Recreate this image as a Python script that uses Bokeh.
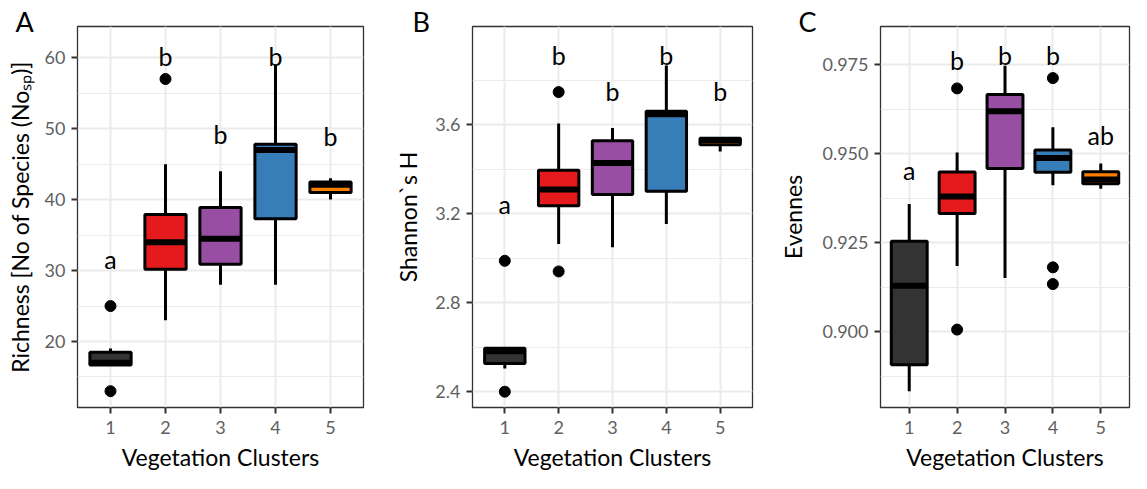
from bokeh.plotting import figure
from bokeh.layouts import row
from bokeh.models import Range1d, FixedTicker, ColumnDataSource, Title
from bokeh.core.properties import value
from bokeh.embed import file_html
from bokeh.resources import INLINE

FONT = "Lato"

# ---------------- data ----------------
clusters = [1, 2, 3, 4, 5]
cluster_labels = ["1", "2", "3", "4", "5"]
box_colors = ["#333333", "#E41A1C", "#984EA3", "#377EB8", "#FF7F00"]

# Panel A: Richness
rich_q1 = [16.7, 30.2, 30.9, 37.3, 41.0]
rich_med = [17.0, 34.0, 34.5, 47.0, 42.1]
rich_q3 = [18.5, 37.9, 38.9, 47.8, 42.5]
rich_lo = [16.7, 23.0, 28.0, 28.0, 40.0]
rich_hi = [19.0, 45.0, 44.0, 59.0, 43.0]
rich_out_x = [1, 1, 2]
rich_out_y = [25.0, 13.0, 57.0]
rich_letters = ["a", "b", "b", "b", "b"]
rich_letter_y = [31.7, 60.3, 49.3, 60.3, 49.0]
rich_ticks = [20, 30, 40, 50, 60]
rich_tick_labels = ["20", "30", "40", "50", "60"]
rich_minor = [15, 25, 35, 45, 55]

# Panel B: Shannon H
shan_q1 = [2.527, 3.237, 3.287, 3.302, 3.511]
shan_med = [2.582, 3.310, 3.429, 3.648, 3.532]
shan_q3 = [2.595, 3.396, 3.529, 3.662, 3.540]
shan_lo = [2.505, 3.064, 3.050, 3.154, 3.481]
shan_hi = [2.595, 3.607, 3.586, 3.868, 3.540]
shan_out_x = [1, 1, 2, 2]
shan_out_y = [2.989, 2.400, 3.748, 2.941]
shan_letters = ["a", "b", "b", "b", "b"]
shan_letter_y = [3.244, 3.916, 3.755, 3.916, 3.755]
shan_ticks = [2.4, 2.8, 3.2, 3.6]
shan_tick_labels = ["2.4", "2.8", "3.2", "3.6"]
shan_minor = [2.6, 3.0, 3.4, 3.8]

# Panel C: Evenness
even_q1 = [0.8907, 0.9332, 0.9459, 0.9448, 0.9416]
even_med = [0.9129, 0.9380, 0.9620, 0.9488, 0.9428]
even_q3 = [0.9254, 0.9449, 0.9667, 0.9511, 0.9450]
even_lo = [0.8833, 0.9185, 0.9151, 0.9412, 0.9402]
even_hi = [0.9359, 0.9504, 0.9748, 0.9575, 0.9473]
even_out_x = [2, 2, 4, 4, 4]
even_out_y = [0.9684, 0.9006, 0.9713, 0.9181, 0.9134]
even_letters = ["a", "b", "b", "b", "ab"]
even_letter_y = [0.9455, 0.9764, 0.9777, 0.9777, 0.9554]
even_ticks = [0.900, 0.925, 0.950, 0.975]
even_tick_labels = ["0.900", "0.925", "0.950", "0.975"]
even_minor = [0.8875, 0.9125, 0.9375, 0.9625]

x_title = "Vegetation Clusters"
y_titles = ["Richness [No of Species (No\u209b\u209a)]", "Shannon`s H", "Evennes"]
panel_letters = ["A", "B", "C"]

BOX_W = 0.75
H = 473
TOP = 26
BOTTOM = 65


def panel(width, left, right, yr, q1, med, q3, lo, hi, ox, oy, letters, ly,
          ticks, tick_labels, minor, letter, letter_offset, ytitle, ytitle_standoff):
    p = figure(width=width, height=H, x_range=Range1d(0.4, 5.6), y_range=Range1d(*yr),
               output_backend="svg", toolbar_location=None,
               min_border_left=left, min_border_right=right,
               min_border_top=TOP, min_border_bottom=BOTTOM)
    p.background_fill_color = "white"
    p.border_fill_color = "white"
    p.outline_line_color = "#333333"
    p.outline_line_width = 1.3

    p.title = Title(text=letter, align="left", offset=letter_offset, standoff=-23,
                    text_font=FONT, text_font_size="27px", text_font_style="normal",
                    text_color="black")

    p.xaxis.ticker = FixedTicker(ticks=clusters)
    p.xaxis.major_label_overrides = {c: l for c, l in zip(clusters, cluster_labels)}
    p.yaxis.ticker = FixedTicker(ticks=ticks, minor_ticks=minor)
    p.yaxis.major_label_overrides = {t: l for t, l in zip(ticks, tick_labels)}
    for ax in (p.xaxis, p.yaxis):
        ax.axis_line_color = None
        ax.major_tick_line_color = "#333333"
        ax.major_tick_line_width = 2
        ax.major_tick_out = 6
        ax.major_tick_in = 0
        ax.minor_tick_line_color = None
        ax.major_label_text_font = FONT
        ax.major_label_text_font_size = "18px"
        ax.major_label_text_color = "#606060"
        ax.axis_label_text_font = FONT
        ax.axis_label_text_font_size = "23px"
        ax.axis_label_text_font_style = "normal"
        ax.axis_label_text_color = "black"
    p.xaxis.major_label_standoff = 7
    p.yaxis.major_label_standoff = 6
    p.xaxis.axis_label = x_title
    p.xaxis.axis_label_standoff = 6
    p.yaxis.axis_label = ytitle
    p.yaxis.axis_label_standoff = ytitle_standoff

    p.xgrid.grid_line_color = "#EBEBEB"
    p.xgrid.grid_line_width = 2
    p.ygrid.grid_line_color = "#EBEBEB"
    p.ygrid.grid_line_width = 2
    p.ygrid.minor_grid_line_color = "#EBEBEB"
    p.ygrid.minor_grid_line_width = 1

    src = ColumnDataSource(dict(
        x=clusters, q1=q1, med=med, q3=q3, lo=lo, hi=hi, color=box_colors,
        x0=[c - BOX_W / 2 for c in clusters], x1=[c + BOX_W / 2 for c in clusters]))
    p.segment(x0="x", x1="x", y0="q3", y1="hi", source=src, line_color="black", line_width=3)
    p.segment(x0="x", x1="x", y0="q1", y1="lo", source=src, line_color="black", line_width=3)
    p.vbar(x="x", width=BOX_W, bottom="q1", top="q3", source=src, fill_color="color",
           line_color="black", line_width=3)
    p.segment(x0="x0", x1="x1", y0="med", y1="med", source=src, line_color="black",
              line_width=6, line_cap="butt")
    p.scatter(x=ox, y=oy, size=11, fill_color="black", line_color="black")

    p.text(x=clusters, y=ly, text=letters, text_font=value(FONT), text_font_size="25px",
           text_align="center", text_baseline="alphabetic", text_color="black")
    return p


pA = panel(380, 77, 17, (10.7, 64.4), rich_q1, rich_med, rich_q3, rich_lo, rich_hi,
           rich_out_x, rich_out_y, rich_letters, rich_letter_y, rich_ticks, rich_tick_labels,
           rich_minor, panel_letters[0], -62, y_titles[0], 8)
pB = panel(390, 92, 18, (2.329, 4.043), shan_q1, shan_med, shan_q3, shan_lo, shan_hi,
           shan_out_x, shan_out_y, shan_letters, shan_letter_y, shan_ticks, shan_tick_labels,
           shan_minor, panel_letters[1], -60, y_titles[1], 10)
pC = panel(361, 110, 2, (0.8787, 0.9858), even_q1, even_med, even_q3, even_lo, even_hi,
           even_out_x, even_out_y, even_letters, even_letter_y, even_ticks, even_tick_labels,
           even_minor, panel_letters[2], -82, y_titles[2], 12)

layout = row(pA, pB, pC)
open("out.html", "w").write(file_html(layout, INLINE))
